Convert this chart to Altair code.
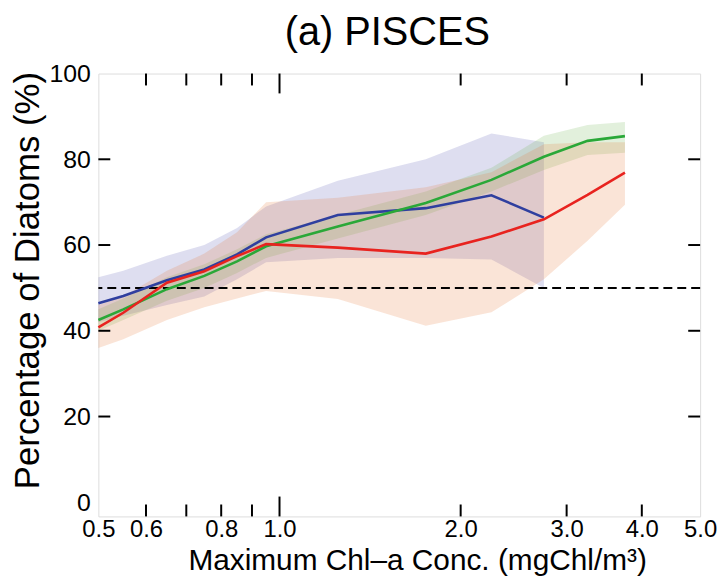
import altair as alt
import pandas as pd

# Chlorophyll bin centres (mgChl/m^3)
x_vals = [0.5, 0.55, 0.65, 0.75, 0.85, 0.95, 1.25, 1.75, 2.25, 2.75, 3.25, 3.75]

# Blue series (ends at 2.75)
blue_mean = [46.4, 48.1, 51.8, 54.3, 57.8, 61.8, 67.0, 68.6, 71.6, 66.4]
blue_lo = [42.0, 43.5, 46.0, 48.0, 52.0, 56.0, 57.0, 57.0, 56.6, 50.0]
blue_hi = [52.5, 54.0, 57.5, 60.0, 64.0, 69.0, 75.0, 80.0, 86.0, 84.0]

# Green series
green_mean = [42.5, 45.0, 49.7, 52.8, 56.2, 59.7, 64.3, 69.8, 75.2, 80.6, 84.3, 85.4]
green_lo = [40.0, 42.5, 47.0, 50.0, 53.5, 57.0, 61.5, 67.0, 72.5, 77.5, 81.0, 81.5]
green_hi = [45.0, 47.5, 52.5, 55.5, 59.0, 62.5, 67.0, 72.5, 78.0, 85.5, 88.0, 88.7]

# Red series
red_mean = [40.8, 44.2, 51.2, 53.9, 57.4, 60.2, 59.4, 58.0, 62.0, 66.0, 71.7, 76.9]
red_lo = [36.0, 38.0, 42.5, 45.5, 47.5, 49.3, 47.4, 41.2, 44.3, 52.0, 61.0, 69.4]
red_hi = [46.0, 48.0, 54.0, 58.0, 63.0, 70.0, 71.0, 73.5, 77.0, 83.5, 84.0, 84.0]

x_labels = [0.5, 0.6, 0.8, 1.0, 2.0, 3.0, 4.0, 5.0]
x_minor_ticks = [0.6, 0.7, 0.8, 0.9, 2.0, 3.0, 4.0]
x_major_ticks = [1.0]
y_labels = [0, 20, 40, 60, 80, 100]
y_tick_marks = [20, 40, 60, 80]
ref_level = [50]

series = ["blue", "green", "red"]
line_colors = ["#2f3f9f", "#2aa838", "#e8231f"]
band_colors = ["#5a5ab4", "#6eb450", "#e67837"]

rows = []
for name, m, lo, hi in [("blue", blue_mean, blue_lo, blue_hi),
                        ("green", green_mean, green_lo, green_hi),
                        ("red", red_mean, red_lo, red_hi)]:
    for i in range(len(m)):
        rows.append({"model": name, "x": x_vals[i], "mean": m[i], "lo": lo[i], "hi": hi[i]})
df = pd.DataFrame(rows)

W, H = 606, 446
FONT = "Liberation Sans"

xscale = alt.Scale(type="log", domain=[0.5, 5.0], nice=False)
yscale = alt.Scale(domain=[-3.3, 100], nice=False, zero=False)

xaxis = alt.Axis(title="Maximum Chl\u2013a Conc. (mgChl/m\u00b3)", values=x_labels, format=".1f",
                 ticks=False, domain=False, grid=False, labelFontSize=24, labelPadding=1,
                 labelOverlap=False, labelFlush=False, labelColor="black", labelFont=FONT,
                 titleFontSize=30, titleFont=FONT, titleFontWeight="normal", titleColor="black",
                 titleX=321, titleY=53, titleBaseline="alphabetic", titleAnchor="middle")
yaxis = alt.Axis(title="Percentage of Diatoms (%)", values=y_labels, ticks=False, domain=False,
                 grid=False, labelFontSize=25, labelPadding=8, labelColor="black", labelFont=FONT,
                 labelOverlap=False, labelFlush=False,
                 titleFontSize=35, titleFont=FONT, titleFontWeight="normal", titleColor="black",
                 titleX=-71, titleY=208, titleBaseline="middle", titleAngle=-90, titleAnchor="middle")

base = alt.Chart(df)

bands = base.mark_area(opacity=0.2).encode(
    x=alt.X("x:Q", scale=xscale, axis=xaxis),
    y=alt.Y("lo:Q", scale=yscale, axis=yaxis),
    y2="hi:Q",
    color=alt.Color("model:N", scale=alt.Scale(domain=series, range=band_colors), legend=None),
)

dashed = alt.Chart(pd.DataFrame({"y": ref_level})).mark_rule(
    color="black", strokeWidth=2, strokeDash=[9, 5]
).encode(y=alt.Y("y:Q", scale=yscale, axis=yaxis))

lines = base.mark_line(strokeWidth=2.6).encode(
    x=alt.X("x:Q", scale=xscale, axis=xaxis),
    y=alt.Y("mean:Q", scale=yscale, axis=yaxis),
    stroke=alt.Stroke("model:N", scale=alt.Scale(domain=series, range=line_colors), legend=None),
)

minor_df = pd.DataFrame({"v": x_minor_ticks})
major_df = pd.DataFrame({"v": x_major_ticks})
ytick_df = pd.DataFrame({"v": y_tick_marks})

def xticks(d, length):
    bottom = alt.Chart(d).mark_rule(color="black", strokeWidth=2).encode(
        x=alt.X("v:Q", scale=xscale, axis=xaxis), y=alt.value(H), y2=alt.value(H - length))
    top = alt.Chart(d).mark_rule(color="black", strokeWidth=2).encode(
        x=alt.X("v:Q", scale=xscale, axis=xaxis), y=alt.value(0), y2=alt.value(length))
    return [bottom, top]

yt_left = alt.Chart(ytick_df).mark_rule(color="black", strokeWidth=2).encode(
    y=alt.Y("v:Q", scale=yscale, axis=yaxis), x=alt.value(0), x2=alt.value(12))
yt_right = alt.Chart(ytick_df).mark_rule(color="black", strokeWidth=2).encode(
    y=alt.Y("v:Q", scale=yscale, axis=yaxis), x=alt.value(W), x2=alt.value(W - 12))

chart = alt.layer(
    bands, dashed, lines, *xticks(minor_df, 12), *xticks(major_df, 20), yt_left, yt_right
).properties(
    width=W, height=H,
    title=alt.Title("(a) PISCES", fontSize=40, font=FONT, fontWeight="normal", color="black",
                    anchor="middle", frame="group", dx=-12, offset=9),
    autosize=alt.AutoSizeParams(type="none"),
    padding={"left": 91, "top": 64, "right": 18, "bottom": 58},
).configure_view(stroke="black", strokeWidth=2).configure(background="white")

chart.save("out.html", embed_options={"renderer": "svg", "actions": False})
